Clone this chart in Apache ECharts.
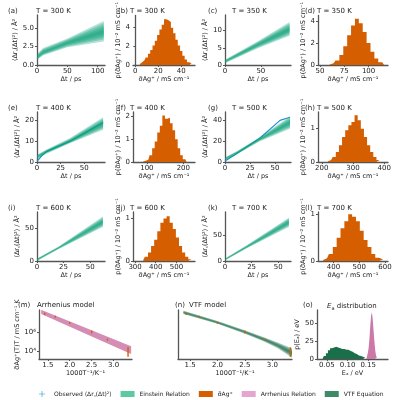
<!DOCTYPE html>
<html><head><meta charset="utf-8">
<script src="https://cdn.jsdelivr.net/npm/echarts@6/dist/echarts.min.js"></script>
<style>body{margin:0}#c{width:400px;height:400px}</style></head>
<body><div id="c"></div>
<script>
// ---- MSD fan data (x, lower, centre, upper) ----
const msdA = {x:[0,10,50,110], lo:[0.7,1.3,2.4,3.2], c:[1.0,1.7,3.0,4.5], hi:[1.5,2.3,3.6,6.0]};
const msdC = {x:[0,5,45,90], lo:[0.5,1.0,4.8,8.5], c:[1.0,1.6,5.8,10.3], hi:[1.5,2.1,6.8,12.5]};
const msdE = {x:[0,10,35,70], lo:[1.5,4,9,15.5], c:[2.5,5,10,18.5], hi:[3.5,6,11.5,21.5]};
const msdG = {x:[0,12,35,65], lo:[1.5,7.5,20,32], c:[3,9,22,38], hi:[4.5,10.5,24,44]};
const msdI = {x:[0,20,62], lo:[0,18,52], c:[2,20,60], hi:[4,22,68]};
const msdK = {x:[0,20,60], lo:[1,24,66], c:[3,27,75], hi:[5,30,84]};
const obsE = [[0,0.3],[5,3],[10,5],[35,10],[70,19]];
const obsG = [[0,1],[10,7],[35,23],[55,40],[65,43]];
// tick values
const msdXTicks = [[0,50,100],[0,50],[0,25,50],[0,25,50],[0,25,50],[0,25,50]];
const msdYTicks = [[0,2.5,5],[0,5,10],[0,10,20],[0,20,40],[0,50],[0,50]];
const histXTicks = [[0,20,40],[50,75,100],[100,200],[200,300,400],[300,400,500],[400,500,600]];
const histYTicks = [[0,2,4],[0,2,4],[0,1,2],[0,1],[0,1],[0,1]];
// ---- histograms of sigma (x centre, density) ----
const histB = [[4,.1],[6,.3],[8,.5],[10,.8],[12,1.2],[14,1.6],[16,2.1],[18,2.6],[20,3.2],[22,3.8],[24,4.3],[26,4.9],[28,4.8],[30,4.6],[32,4.0],[34,3.4],[36,2.7],[38,2.1],[40,1.5],[42,1.0],[44,.6],[46,.3],[48,.15],[50,.05]];
const histD = [[60,.05],[64,.15],[68,.4],[72,.9],[76,1.7],[80,2.7],[84,3.6],[88,4.2],[92,3.8],[96,3.0],[100,2.0],[104,1.2],[108,.6],[112,.25],[116,.08]];
const histF = [[90,.02],[97,.05],[104,.1],[111,.3],[118,.6],[125,.9],[132,1.3],[139,1.6],[146,2.05],[153,1.9],[160,1.95],[167,1.7],[174,1.4],[181,1.0],[188,.6],[195,.3],[202,.12],[209,.04]];
const histH = [[220,.02],[230,.06],[240,.15],[250,.3],[260,.5],[270,.75],[280,.95],[290,1.1],[300,1.2],[310,1.4],[320,1.25],[330,1.0],[340,.75],[350,.5],[360,.3],[370,.15],[380,.06],[390,.02]];
const histJ = [[340,.03],[355,.1],[370,.2],[385,.35],[400,.5],[415,.7],[430,.9],[445,1.0],[460,1.05],[475,.9],[490,.75],[505,.55],[520,.35],[535,.2],[550,.1],[565,.04],[580,.02]];
const histL = [[360,.02],[375,.06],[390,.15],[405,.3],[420,.5],[435,.7],[450,.85],[465,1.0],[480,.95],[495,.85],[510,.65],[525,.45],[540,.3],[555,.15],[570,.07],[585,.03],[600,.01]];
// ---- Arrhenius / VTF (log10 of sigma*T) ----
const ptsX = [1.43,1.67,2.0,2.5,2.86,3.33];
const ptsLog = [7.9,7.6,6.95,6.0,5.2,3.9];
const ptsErr = [0.12,0.1,0.1,0.15,0.1,0.5];
const arrX = [1.35,3.4], arrLog = [8.1,4.1], arrHW = [0.22,0.4];
const vtfX = [1.38,2.0,2.5,2.86,3.1,3.36], vtfLog = [8.05,7.0,6.0,5.2,4.6,3.8], vtfHW = [0.18,0.15,0.17,0.22,0.3,0.5];
const invTTicks = [1.5,2.0,2.5,3.0];
const logTicks = [1e4,1e6];
// ---- Ea distributions ----
const eaVTF = [[.04,1],[.045,4],[.05,8],[.055,12],[.06,15],[.065,16],[.07,17],[.075,16],[.08,15],[.085,14],[.09,14],[.095,13],[.1,13],[.105,11],[.11,10],[.115,8],[.12,7],[.125,5],[.13,4],[.135,3],[.14,2],[.145,1]];
const eaArr = [[.146,1],[.148,3],[.15,8],[.152,15],[.154,28],[.156,45],[.158,60],[.16,65],[.162,55],[.164,40],[.166,25],[.168,12],[.17,5],[.172,2],[.174,1]];
const eaXTicks = [0.05,0.10,0.15], eaYTicks=[0,25,50];

const TEAL='#0a9e78', ORANGE='#d55e00', PINK='#cc79a7', DKG='#1b6e4a', BLUE='#1f8fd0';
const F='DejaVu Sans';
const grids=[], xA=[], yA=[], series=[], titles=[];
const LBL={fontSize:7,color:'#222',fontFamily:F,margin:3};
function mkAx(ticks,extra,fmt){return Object.assign({type:'value',nameLocation:'middle',
  axisLine:{show:true,lineStyle:{color:'#555',width:1.3}},
  axisTick:{show:true,length:2,lineStyle:{color:'#555'},customValues:ticks},splitLine:{show:false},
  axisLabel:Object.assign({},LBL,{customValues:ticks},fmt?{formatter:fmt}:{}),
  nameTextStyle:{fontSize:6.5,color:'#222',fontFamily:F}},extra);}
function addGrid(l,t,w,h,xo,yo){const i=grids.length;grids.push({left:l,top:t,width:w,height:h});
  xA.push(Object.assign({gridIndex:i,nameGap:10},xo));yA.push(Object.assign({gridIndex:i,nameGap:16},yo));return i;}
function poly(i,xs,lo,hi,color,op){series.push({type:'custom',xAxisIndex:i,yAxisIndex:i,clip:true,silent:true,data:[[xs[0],lo[0]]],
  renderItem:(p,api)=>{const pts=[];for(let k=0;k<xs.length;k++)pts.push(api.coord([xs[k],lo[k]]));for(let k=xs.length-1;k>=0;k--)pts.push(api.coord([xs[k],hi[k]]));
   return {type:'polygon',shape:{points:pts},style:{fill:color,opacity:op}};}});}
function fan(i,d,color){for(let k=1;k<=5;k++){const f=k/5;poly(i,d.x,d.c.map((c,j)=>c-(c-d.lo[j])*f),d.c.map((c,j)=>c+(d.hi[j]-c)*f),color,0.3);}}
function hist(i,d,color){series.push({type:'line',xAxisIndex:i,yAxisIndex:i,step:'middle',symbol:'none',data:d,lineStyle:{width:0},areaStyle:{color:color,opacity:1},itemStyle:{color:color}});}
const TS={fontSize:7,fontWeight:'normal',fontFamily:F,color:'#222'};
function title(t,x,y,txt,x2){titles.push({text:t,left:x,top:y,textStyle:TS});titles.push({text:txt,left:x2,top:y,textStyle:TS});}
const msdName='⟨Δr꜀(Δt)²⟩ / Å²', tName='Δt / ps', hY='p(σ̃Ag⁺) / 10⁻² mS cm⁻¹', hX='σ̃Ag⁺ / mS cm⁻¹';
const cols=[37,133,225,318], widths=[68,62,66,70], rows=[15,112,212,310], H=[50,50,49];
const labX=[3,113,203,300], txtX=[31,125,227,312];
const msd=[[msdA,112,6.8],[msdC,92,14.5],[msdE,72,24],[msdG,66,48],[msdI,64,75],[msdK,62,95]];
const obs=[null,null,obsE,obsG,null,null];
const hs=[[histB,-2,52,5.3],[histD,48,120,4.5],[histF,62,232,2.2],[histH,188,412,1.5],[histJ,290,590,1.15],[histL,340,612,1.05]];
const letters='abcdefghijkl', temps=[300,300,350,350,400,400,500,500,600,600,700,700];
for(let r=0;r<3;r++)for(let c=0;c<4;c++){const n=r*4+c, pi=r*2+(c>>1);
  title('('+letters[n]+')',labX[c],rows[r]-12,'T = '+temps[n]+' K',txtX[c]);
  if(c%2===0){const m=msd[pi];const i=addGrid(cols[c],rows[r],widths[c],H[r],mkAx(msdXTicks[pi],{min:0,max:m[1],name:tName}),
      mkAx(msdYTicks[pi],{min:0,max:m[2],name:msdName,nameGap:pi===0?18:16},pi===0?(v=>v.toFixed(1)):null));
    fan(i,m[0],TEAL);
    if(obs[pi])series.push({type:'line',xAxisIndex:i,yAxisIndex:i,symbol:'none',data:obs[pi],lineStyle:{color:BLUE,width:1.2},z:1});
  }else{const h=hs[pi];const i=addGrid(cols[c],rows[r],widths[c],H[r],mkAx(histXTicks[pi],{min:h[1],max:h[2],name:hX}),
      mkAx(histYTicks[pi],{min:0,max:h[3],name:hY,nameGap:9}));
    hist(i,h[0],ORANGE);}
}
// row 4
const logFmt=v=>v===1e4?'10⁴':'10⁶';
const P=a=>a.map(v=>Math.pow(10,v));
title('(m)',13,rows[3]-13,'Arrhenius model',32);
let i=addGrid(39,310,93,49,mkAx(invTTicks,{min:1.3,max:3.42,name:'1000T⁻¹/K⁻¹'},v=>v.toFixed(1)),
  mkAx(logTicks,{type:'log',min:1500,max:2e8,name:'σ̃Ag⁺(T)T / mS cm⁻¹ K',nameGap:18},logFmt));
poly(i,arrX,P(arrLog.map((v,k)=>v-arrHW[k])),P(arrLog.map((v,k)=>v+arrHW[k])),PINK,0.85);
const errPts=ptsX.map((x,k)=>[x,ptsLog[k]-ptsErr[k],ptsLog[k]+ptsErr[k]]);
function errs(i){series.push({type:'custom',xAxisIndex:i,yAxisIndex:i,data:errPts,renderItem:(p,api)=>{const a=api.coord([api.value(0),Math.pow(10,api.value(1))]),b=api.coord([api.value(0),Math.pow(10,api.value(2))]);
  return {type:'line',shape:{x1:a[0],y1:a[1],x2:b[0],y2:b[1]},style:{stroke:ORANGE,lineWidth:1.4}};},z:5});}
errs(i);
title('(n)',170,rows[3]-13,'VTF model',184);
i=addGrid(178,310,114,49,mkAx(invTTicks,{min:1.28,max:3.36,name:'1000T⁻¹/K⁻¹'},v=>v.toFixed(1)),
  mkAx([],{type:'log',min:1500,max:2e8,axisLabel:{show:false},axisTick:{show:false}}));
for(let k=1;k<=4;k++)poly(i,vtfX,P(vtfLog.map((v,j)=>v-vtfHW[j]*k/4)),P(vtfLog.map((v,j)=>v+vtfHW[j]*k/4)),DKG,0.35);
errs(i);
titles.push({text:'(o)',left:298,top:rows[3]-13,textStyle:TS});
titles.push({text:'{i|E}{s|a} distribution',left:322,top:rows[3]-13,textStyle:Object.assign({},TS,{rich:{i:{fontStyle:'italic',fontSize:7,fontFamily:F},s:{fontSize:5,fontFamily:F,padding:[4,0,0,0]}}})});
i=addGrid(317,310,71,49,mkAx(eaXTicks,{min:0.026,max:0.198,name:'Eₐ / eV'},v=>v.toFixed(2)),
  mkAx(eaYTicks,{min:0,max:68,name:'p(Eₐ) / eV',nameGap:12}));
hist(i,eaVTF,DKG); hist(i,eaArr,PINK);
// legend dummies
const leg=[['Observed ⟨Δr꜀(Δt)²⟩',BLUE,'path://M0,4.5h10v1h-10zM4.5,0h1v10h-1z'],['Einstein Relation','#5cc9a0','rect'],['σ̃Ag⁺',ORANGE,'rect'],['Arrhenius Relation','#e4a6d0','rect'],['VTF Equation','#3e8a66','rect']];
leg.forEach(l=>series.push({type:'line',name:l[0],data:[],xAxisIndex:0,yAxisIndex:0,itemStyle:{color:l[1]},lineStyle:{color:l[1]}}));
const chart=echarts.init(document.getElementById('c'));
chart.setOption({animation:false,title:titles,grid:grids,xAxis:xA,yAxis:yA,series:series,
  legend:{bottom:-2,left:34,width:370,itemWidth:14,itemHeight:6,itemGap:9,textStyle:{fontSize:6,fontFamily:F,color:'#222'},
    data:leg.map(l=>({name:l[0],icon:l[2]}))}});
</script></body></html>
